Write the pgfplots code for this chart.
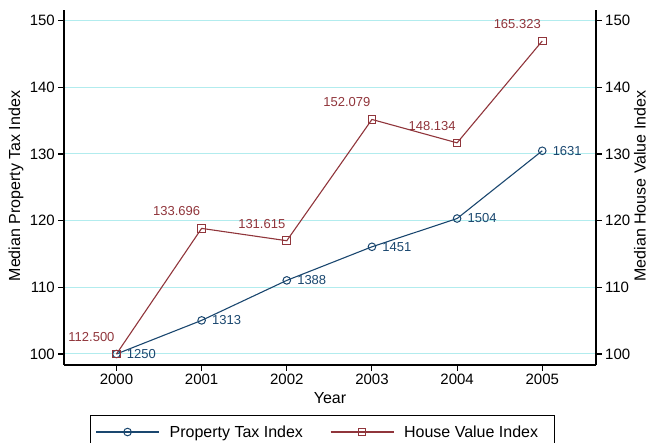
\documentclass[border=0pt]{standalone}
\usepackage{pgfplots}
\pgfplotsset{compat=1.18}
\usepackage{fontspec}
\setmainfont{Liberation Sans}
\definecolor{navyS}{RGB}{26,71,111}
\definecolor{maroonS}{RGB}{144,53,59}
\definecolor{gridc}{RGB}{178,236,238}
\begin{document}
\begin{tikzpicture}
\pgfplotsset{
  base/.style={
    at={(0,0)}, anchor=south west, scale only axis,
    width=532pt, height=355pt,
    xmin=1999.384, xmax=2005.631, ymin=98.35, ymax=151.6,
    ytick={100,110,120,130,140,150},
    yticklabels={100,110,120,130,140,150},
    tick align=outside, major tick length=6pt,
    /pgf/number format/assume math mode=true,
    ticklabel style={font=\fontsize{15}{18}\selectfont, inner sep=3pt},
    axis line style={line width=1.1pt, black},
    tick style={line width=1.1pt, black},
  }
}
\begin{axis}[base,
  axis x line*=bottom, axis y line*=left,
  xtick={2000,2001,2002,2003,2004,2005},
  xticklabels={2000,2001,2002,2003,2004,2005},
  ymajorgrids, major grid style={gridc, line width=1pt},
  xlabel={Year}, ylabel={Median Property Tax Index},
  every axis x label/.style={at={(axis description cs:0.5,-0.0944)}, anchor=center, font=\fontsize{16}{19}\selectfont},
  every axis y label/.style={at={(axis description cs:-0.0902,0.504)}, anchor=center, rotate=90, font=\fontsize{16}{19}\selectfont},
  legend columns=2,
  legend style={at={(axis description cs:0.0489,-0.1408)}, anchor=north west,
    draw=black, line width=1pt, font=\fontsize{16}{19}\selectfont,
    inner xsep=5pt, inner ysep=10pt,
    nodes={inner sep=0pt, anchor=west},
    /tikz/every odd column/.append style={column sep=10pt},
    /tikz/every even column/.append style={column sep=27pt}},
  legend image code/.code={\draw[mark repeat=2, mark phase=2] plot coordinates {(0pt,0pt) (31.5pt,0pt) (63pt,0pt)};},
]
\addplot[navyS, line width=1.1pt, mark=o, mark size=3.8pt,
  mark options={line width=1pt, solid},
  point meta=explicit symbolic, nodes near coords,
  nodes near coords style={anchor=west, inner sep=0pt, xshift=10pt, yshift=0pt,
    font=\fontsize{13}{15}\selectfont, text=navyS}]
  table[x=x, y=y, meta=lab] {
x y lab
2000 100 1250
2001 105.04 1313
2002 111.04 1388
2003 116.08 1451
2004 120.32 1504
2005 130.48 1631
};
\addlegendentry{Property Tax Index}
\addplot[maroonS, line width=1.1pt, mark=square, mark size=3.8pt,
  mark options={line width=1pt, solid},
  point meta=explicit symbolic, nodes near coords,
  nodes near coords style={anchor=center, inner sep=0pt, xshift=-25pt, yshift=17pt,
    font=\fontsize{13}{15}\selectfont, text=maroonS}]
  table[x=x, y=y, meta=lab] {
x y lab
2000 100 112.500
2001 118.84 133.696
2002 116.99 131.615
2003 135.18 152.079
2004 131.67 148.134
2005 146.95 165.323
};
\addlegendentry{House Value Index\rule{11pt}{0pt}}
\end{axis}
\begin{axis}[base,
  axis x line=none, axis y line*=right,
  ylabel={Median House Value Index},
  every axis y label/.style={at={(axis description cs:1.0827,0.504)}, anchor=center, rotate=90, font=\fontsize{16}{19}\selectfont},
]
\addplot[draw=none, forget plot] coordinates {(2000,100)};
\end{axis}
\pgfresetboundingbox
\path[use as bounding box] (-64pt,-78pt) rectangle (585pt,365pt);
\end{tikzpicture}
\end{document}
